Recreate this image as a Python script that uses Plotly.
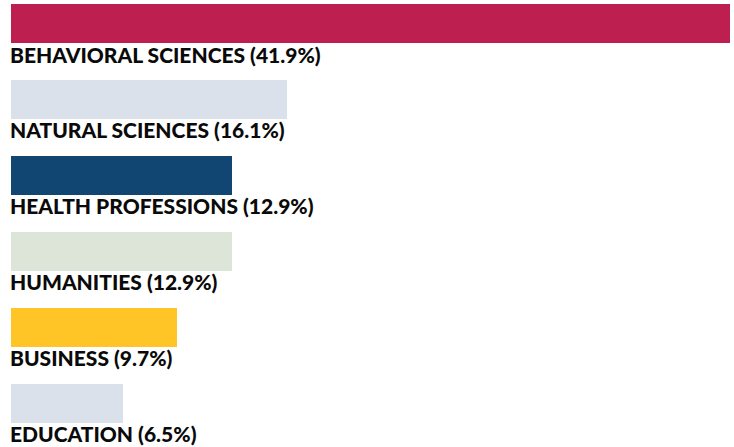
import plotly.graph_objects as go

categories = ["BEHAVIORAL SCIENCES", "NATURAL SCIENCES", "HEALTH PROFESSIONS",
              "HUMANITIES", "BUSINESS", "EDUCATION"]
values = [41.9, 16.1, 12.9, 12.9, 9.7, 6.5]
colors = ["#BC1F50", "#DAE1EA", "#124672", "#DDE5D8", "#FFC425", "#DAE1EA"]

W, H = 734, 447
pitch = 75.9
first_center = 23.5
y_top = -first_center / pitch
y_bot = (H - first_center) / pitch

fig = go.Figure()
fig.add_trace(go.Bar(
    x=values, y=list(range(len(values))), orientation="h",
    marker=dict(color=colors, line=dict(width=0)),
    width=39 / pitch, hoverinfo="skip", showlegend=False,
))
for i, (c, v) in enumerate(zip(categories, values)):
    fig.add_annotation(
        x=0, y=i + 30.5 / pitch, xref="x", yref="y",
        text=f"{c} ({v}%)", showarrow=False,
        xanchor="left", yanchor="middle", xshift=-2, borderpad=0,
        font=dict(family="Lato", size=21, color="#0a0a0a", weight=900),
    )
fig.update_layout(
    width=W, height=H,
    margin=dict(l=11, r=4, t=0, b=0),
    paper_bgcolor="white", plot_bgcolor="white",
    xaxis=dict(range=[0, 41.9], visible=False, fixedrange=True),
    yaxis=dict(range=[y_bot, y_top], visible=False, fixedrange=True),
    bargap=0,
)
fig.write_html(
    "out.html",
    config={"displayModeBar": False},
    post_script="document.body.style.margin='0';document.body.style.overflow='hidden';",
)
